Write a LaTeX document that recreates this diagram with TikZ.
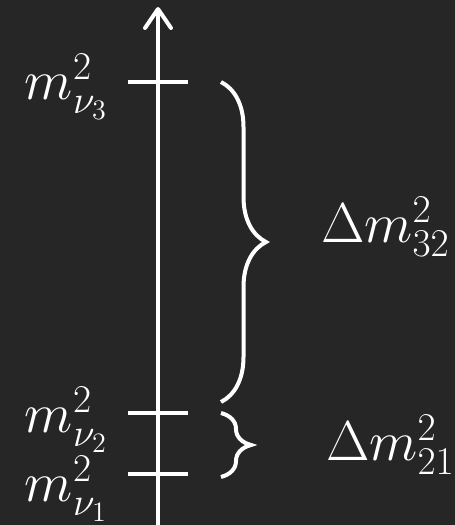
\RequirePackage{fix-cm}
\documentclass[tikz,border=0pt]{standalone}
\usetikzlibrary{arrows.meta,decorations.pathreplacing,positioning}
\definecolor{board}{HTML}{262626}
\tikzset{
	every picture/.style={font=\fontsize{32}{38}\selectfont,},
	lw/.style={line width=0.08cm,},
	chalk/.style={white, lw},
	axis/.style={chalk, -{Straight Barb[length=0.38cm, width=0.52cm, round]},},
	tickmark/.style={chalk},
	mbrace/.style={chalk, decorate, decoration={brace, amplitude=#1}},
	lbl/.style={text=white, inner sep=0},
}
\gdef\W{9.1}
\gdef\H{10.5}
\gdef\xA{3.16}
\gdef\tk{0.6}
\gdef\xB{4.42}

\begin{document}
\begin{tikzpicture}[]

	%%% Board

	\fill[board] (0,0) rectangle (\W,\H);
	\useasboundingbox (0,0) rectangle (\W,\H);

	%%% Axis, ticks

	\coordinate (bot) at (\xA,0);
	\coordinate (top) at (\xA,10.36);
	\draw[axis] (bot) -- (top);

	\coordinate (nu3) at (\xA,8.86);
	\coordinate (nu2) at (\xA,2.24);
	\coordinate (nu1) at (\xA,1.02);

	\draw[tickmark] (nu3) ++(-\tk,0) coordinate (nu3l) -- ++(2*\tk,0);
	\draw[tickmark] (nu2) ++(-\tk,0) coordinate (nu2l) -- ++(2*\tk,0);
	\draw[tickmark] (nu1) ++(-\tk,0) coordinate (nu1l) -- ++(2*\tk,0);

	\node[lbl, left=0.4cm of nu3l, yshift=-0.1cm] (m3) {$m^2_{\nu_3}$};
	\node[lbl, left=0.4cm of nu2l, yshift=-0.14cm] (m2) {$m^2_{\nu_2}$};
	\node[lbl, left=0.4cm of nu1l, yshift=-0.3cm] (m1) {$m^2_{\nu_1}$};

	%%% Braces

	\coordinate (b32t) at (\xB,8.86);
	\coordinate (b32b) at (\xB,2.46);
	\coordinate (b21t) at (\xB,2.24);
	\coordinate (b21b) at (\xB,0.96);

	\draw[mbrace=0.9cm] (b32t) -- (b32b) node[lbl, midway, anchor=west, xshift=1.96cm, yshift=0.3cm] (d32) {$\Delta m^2_{32}$};
	\draw[mbrace=0.6cm] (b21t) -- (b21b) node[lbl, midway, anchor=west, xshift=2.06cm] (d21) {$\Delta m^2_{21}$};

\end{tikzpicture}
\end{document}
